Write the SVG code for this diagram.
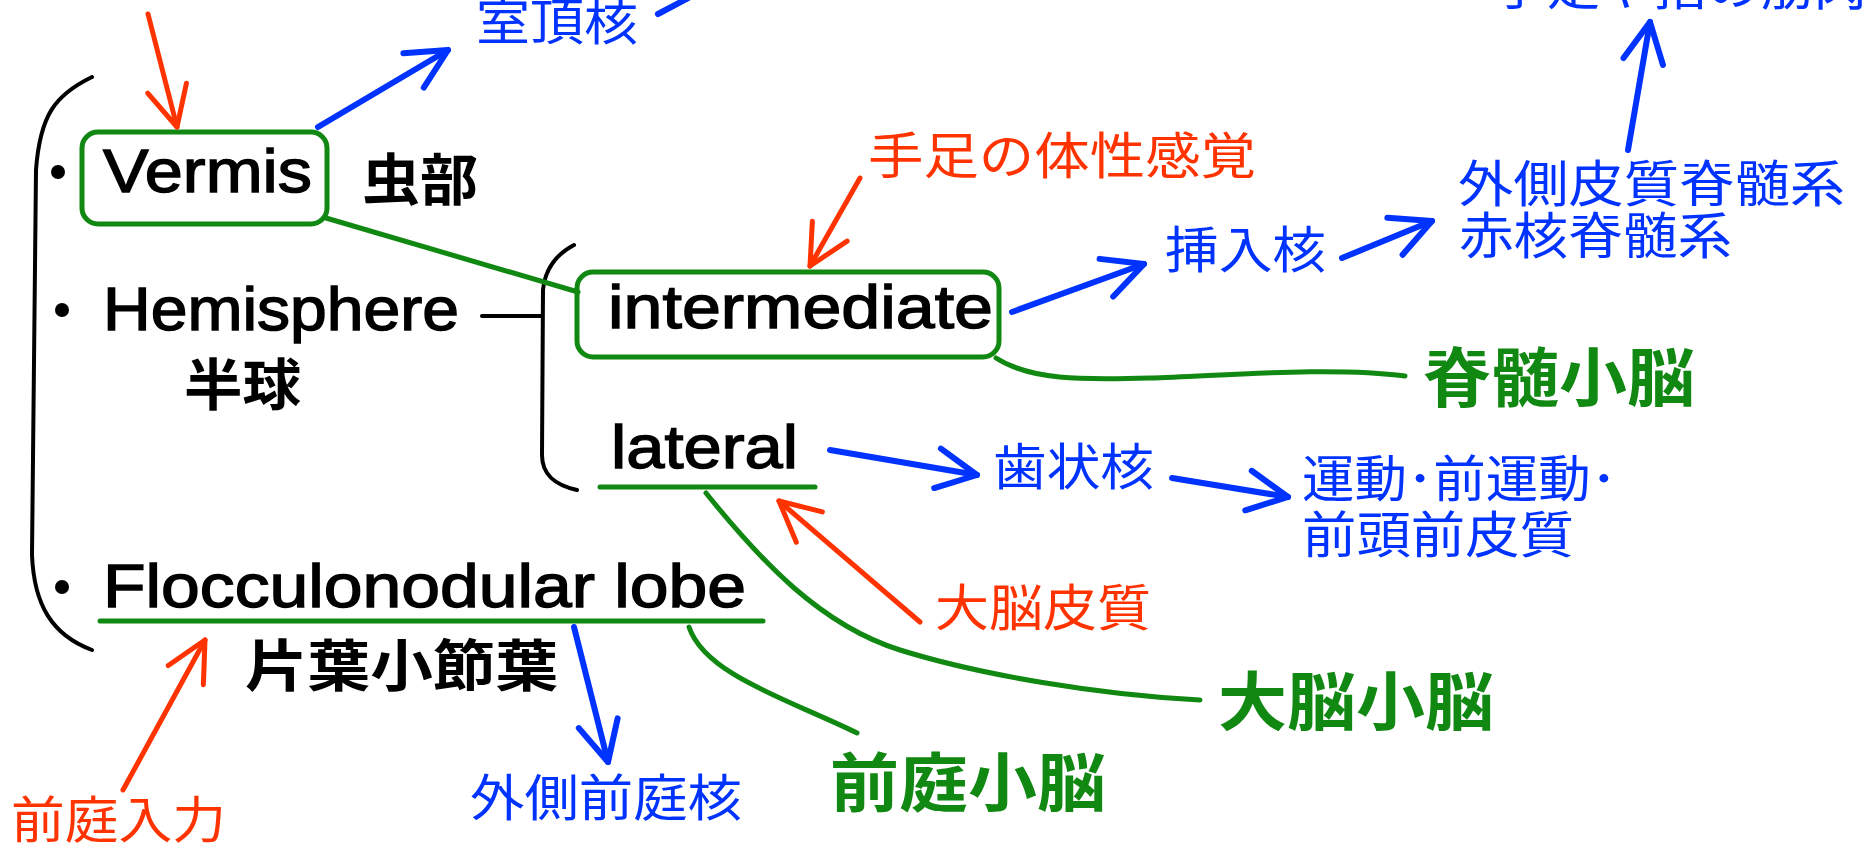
<svg xmlns="http://www.w3.org/2000/svg" width="1870" height="846" viewBox="0 0 1870 846">
<defs>
<style>
.lat{font-family:"Liberation Sans",Arial,sans-serif;font-size:62px;fill:#000;stroke:#000;stroke-width:1.4}
.jb{font-family:"Noto Sans CJK JP",sans-serif;font-weight:700;fill:#000;font-size:56px}
.blue{font-family:"Noto Sans CJK JP",sans-serif;font-size:50px;fill:#0033ff}
.red{font-family:"Noto Sans CJK JP",sans-serif;font-size:50px;fill:#ff3300}
.grn{font-family:"Noto Sans CJK JP",sans-serif;font-weight:700;font-size:64px;fill:#118811}
.gl{fill:none;stroke:#118811;stroke-width:5;stroke-linecap:round}
.bl{fill:none;stroke:#000;stroke-width:4;stroke-linecap:round}
.ba{fill:none;stroke:#0033ff;stroke-width:6;stroke-linecap:round}
.ra{fill:none;stroke:#ff3300;stroke-width:5;stroke-linecap:round}
</style>
<marker id="ahB" markerUnits="userSpaceOnUse" viewBox="0 0 52 52" refX="48" refY="26" markerWidth="52" markerHeight="52" orient="auto">
<path d="M8,6 L48,26 L8,46" fill="none" stroke="#0033ff" stroke-width="6" stroke-linecap="round" stroke-linejoin="round"/>
</marker>
<marker id="ahR" markerUnits="userSpaceOnUse" viewBox="0 0 52 52" refX="48" refY="26" markerWidth="52" markerHeight="52" orient="auto">
<path d="M8,6 L48,26 L8,46" fill="none" stroke="#ff3300" stroke-width="5" stroke-linecap="round" stroke-linejoin="round"/>
</marker>
</defs>
<rect width="1870" height="846" fill="#fff"/>

<g id="brackets">
<path class="bl" d="M92,77 C55,95 40,115 36,170 L32,555 C34,605 52,635 92,650"/>
<path class="bl" d="M574,245 C555,255 545,270 543,290 L542,455 C542,475 555,485 577,490"/>
<path class="bl" d="M482,316 L542,316" stroke-width="5"/>
<circle cx="58" cy="172" r="7" fill="#000"/>
<circle cx="62" cy="310" r="7" fill="#000"/>
<circle cx="62" cy="587" r="7" fill="#000"/>
</g>

<g id="vermis">
<rect x="82" y="132" width="245" height="92" rx="16" fill="none" stroke="#118811" stroke-width="5"/>
<text class="lat" x="103" y="192" font-size="64" textLength="209" lengthAdjust="spacingAndGlyphs">Vermis</text>
<text class="jb" x="362" y="200" textLength="116" lengthAdjust="spacingAndGlyphs">虫部</text>
</g>

<g id="hemisphere">
<text class="lat" x="103" y="330" textLength="356" lengthAdjust="spacingAndGlyphs">Hemisphere</text>
<text class="jb" x="184" y="405" textLength="117" lengthAdjust="spacingAndGlyphs">半球</text>
</g>

<g id="intermediate">
<rect x="577" y="272" width="422" height="85" rx="16" fill="none" stroke="#118811" stroke-width="5"/>
<text class="lat" x="608" y="328" textLength="385" lengthAdjust="spacingAndGlyphs">intermediate</text>
</g>

<g id="lateral">
<text class="lat" x="611" y="468" textLength="187" lengthAdjust="spacingAndGlyphs">lateral</text>
<path class="gl" d="M600,487 L815,487" stroke-width="6"/>
</g>

<g id="flocculonodular">
<text class="lat" x="103" y="607" textLength="643" lengthAdjust="spacingAndGlyphs">Flocculonodular lobe</text>
<path class="gl" d="M100,621 L763,621" stroke-width="6"/>
<text class="jb" x="245" y="686" font-size="58" textLength="313" lengthAdjust="spacingAndGlyphs">片葉小節葉</text>
</g>

<g id="labels-blue">
<text class="blue" x="476" y="40" textLength="162" lengthAdjust="spacingAndGlyphs">室頂核</text>
<text class="blue" x="1493" y="5" textLength="374" lengthAdjust="spacingAndGlyphs">手足や指の筋肉</text>
<text class="blue" x="1165" y="268" textLength="161" lengthAdjust="spacingAndGlyphs">挿入核</text>
<text class="blue" x="1458" y="202" textLength="387" lengthAdjust="spacingAndGlyphs">外側皮質脊髄系</text>
<text class="blue" x="1459" y="254" textLength="273" lengthAdjust="spacingAndGlyphs">赤核脊髄系</text>
<text class="blue" x="993" y="485" textLength="161" lengthAdjust="spacingAndGlyphs">歯状核</text>
<text class="blue" x="1302" y="497" textLength="315" lengthAdjust="spacingAndGlyphs">運動･前運動･</text>
<text class="blue" x="1302" y="553" textLength="272" lengthAdjust="spacingAndGlyphs">前頭前皮質</text>
<text class="blue" x="470" y="816" textLength="272" lengthAdjust="spacingAndGlyphs">外側前庭核</text>
</g>

<g id="labels-red">
<text class="red" x="868" y="174" textLength="388" lengthAdjust="spacingAndGlyphs">手足の体性感覚</text>
<text class="red" x="935" y="626" textLength="216" lengthAdjust="spacingAndGlyphs">大脳皮質</text>
<text class="red" x="11" y="838" textLength="215" lengthAdjust="spacingAndGlyphs">前庭入力</text>
</g>

<g id="labels-green">
<text class="grn" x="1423" y="401" textLength="272" lengthAdjust="spacingAndGlyphs">脊髄小脳</text>
<text class="grn" x="1218" y="725" textLength="276" lengthAdjust="spacingAndGlyphs">大脳小脳</text>
<text class="grn" x="830" y="806" textLength="276" lengthAdjust="spacingAndGlyphs">前庭小脳</text>
</g>

<g id="connectors">
<path class="gl" d="M326,218 L578,292"/>
<path class="gl" d="M996,358 C1030,380 1080,380 1150,378 S1330,366 1405,376"/>
<path class="gl" d="M706,493 C760,560 820,625 900,650 S1100,695 1200,700"/>
<path class="gl" d="M689,627 C705,675 790,700 857,733"/>
<path class="ba" d="M318,127 L448,50" marker-end="url(#ahB)"/>
<path class="ba" d="M658,14 L692,-4"/>
<path class="ba" d="M1012,312 L1144,264" marker-end="url(#ahB)"/>
<path class="ba" d="M1342,258 L1432,221" marker-end="url(#ahB)"/>
<path class="ba" d="M1628,150 L1650,22" marker-end="url(#ahB)"/>
<path class="ba" d="M830,450 L977,475" marker-end="url(#ahB)"/>
<path class="ba" d="M1172,478 L1288,497" marker-end="url(#ahB)"/>
<path class="ba" d="M574,627 L608,762" marker-end="url(#ahB)"/>
<path class="ra" d="M148,14 L177,127" marker-end="url(#ahR)"/>
<path class="ra" d="M860,178 L810,266" marker-end="url(#ahR)"/>
<path class="ra" d="M920,622 L779,501" marker-end="url(#ahR)"/>
<path class="ra" d="M123,790 L205,640" marker-end="url(#ahR)"/>
</g>
</svg>
